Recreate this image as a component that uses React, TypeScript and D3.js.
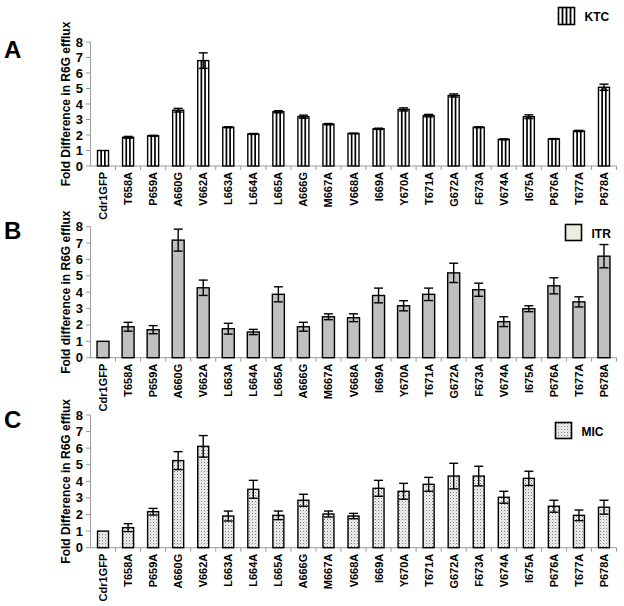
import React from "react";
import * as d3 from "d3";

const categories = ["Cdr1GFP","T658A","P659A","A660G","V662A","L663A","L664A","L665A","A666G","M667A","V668A","I669A","Y670A","T671A","G672A","F673A","V674A","I675A","P676A","T677A","P678A"];
const ktcValues = [1.0,1.85,1.95,3.6,6.8,2.5,2.07,3.5,3.18,2.7,2.1,2.4,3.65,3.25,4.55,2.5,1.72,3.18,1.75,2.26,5.08];
const ktcErrors = [0,0.06,0.03,0.12,0.5,0.03,0.03,0.07,0.1,0.04,0.02,0.04,0.1,0.08,0.1,0.03,0.03,0.12,0.02,0.04,0.2];
const itrValues = [1.0,1.89,1.71,7.18,4.27,1.77,1.57,3.87,1.89,2.5,2.44,3.8,3.17,3.87,5.18,4.15,2.2,2.99,4.39,3.41,6.2];
const itrErrors = [0,0.27,0.25,0.67,0.47,0.33,0.16,0.46,0.27,0.18,0.24,0.45,0.31,0.38,0.59,0.4,0.3,0.18,0.49,0.31,0.71];
const micValues = [1.0,1.21,2.17,5.25,6.11,1.91,3.52,1.95,2.86,2.03,1.91,3.58,3.4,3.82,4.32,4.32,3.04,4.18,2.5,1.95,2.44];
const micErrors = [0,0.24,0.2,0.54,0.65,0.3,0.54,0.26,0.36,0.18,0.16,0.48,0.48,0.42,0.77,0.59,0.36,0.43,0.36,0.32,0.42];
const yTicks = [0,1,2,3,4,5,6,7,8];

const FONT = "Liberation Sans, Arial, sans-serif";
const AXIS = "#9a9a9a";

type PanelProps = {
  letter: string;
  letterY: number;
  title: string;
  values: number[];
  errors: number[];
  y0: number;
  y8: number;
  barW: number;
  kind: "ktc" | "itr" | "mic";
  legend: string;
  legendX: number;
  legendY: number;
};

const x = d3.scaleBand<string>().domain(categories).range([90.5, 616.5]).paddingInner(0.54).paddingOuter(0.27);

function Panel(p: PanelProps) {
  const y = d3.scaleLinear().domain([0, 8]).range([p.y0, p.y8]);
  const step = x.step();
  const fill = p.kind === "itr" ? "#c0c0c0" : p.kind === "mic" ? "url(#dots)" : "#ffffff";
  return (
    <g>
      <text x={4} y={p.letterY} fontFamily={FONT} fontWeight="bold" fontSize={24}>{p.letter}</text>
      {/* y axis */}
      <line x1={90.5} x2={90.5} y1={y(0)} y2={y(8)} stroke={AXIS} strokeWidth={1} />
      {yTicks.map((t) => (
        <g key={t}>
          <line x1={86} x2={90.5} y1={y(t)} y2={y(t)} stroke={AXIS} strokeWidth={1} />
          <text x={83} y={y(t) + 4.5} textAnchor="end" fontFamily={FONT} fontWeight="bold" fontSize={13}>{t}</text>
        </g>
      ))}
      <text transform={`translate(70,${(y(0) + y(8)) / 2}) rotate(-90)`} textAnchor="middle" fontFamily={FONT} fontWeight="bold" fontSize={12}>{p.title}</text>
      {/* x axis */}
      <line x1={90.5} x2={616.5} y1={y(0)} y2={y(0)} stroke={AXIS} strokeWidth={1} />
      {categories.map((c, i) => (
        <line key={"t" + c} x1={90.5 + step * (i + 1)} x2={90.5 + step * (i + 1)} y1={y(0)} y2={y(0) + 4} stroke={AXIS} strokeWidth={1} />
      ))}
      {categories.map((c, i) => {
        const cx = (x(c) as number) + x.bandwidth() / 2;
        return (
          <text key={"l" + c} transform={`translate(${cx + 4},${y(0) + 6}) rotate(-90)`} textAnchor="end" fontFamily={FONT} fontWeight="bold" fontSize={11}>{c}</text>
        );
      })}
      {/* bars */}
      {categories.map((c, i) => {
        const cx = (x(c) as number) + x.bandwidth() / 2;
        const bx = cx - p.barW / 2;
        const top = y(p.values[i]);
        const h = y(0) - top;
        return (
          <g key={"b" + c}>
            <rect x={bx} y={top} width={p.barW} height={h} fill={fill} stroke="#000" strokeWidth={1.4} />
            {p.kind === "ktc" && [1, 2].map((k) => (
              <line key={k} x1={bx + (p.barW * k) / 3} x2={bx + (p.barW * k) / 3} y1={top} y2={y(0)} stroke="#000" strokeWidth={1.7} />
            ))}
          </g>
        );
      })}
      {/* error bars */}
      {categories.map((c, i) => {
        const e = p.errors[i];
        if (!e) return null;
        const cx = (x(c) as number) + x.bandwidth() / 2;
        const hi = y(p.values[i] + e);
        const lo = y(p.values[i] - e);
        return (
          <g key={"e" + c} stroke="#000" strokeWidth={1.4}>
            <line x1={cx} x2={cx} y1={hi} y2={lo} />
            <line x1={cx - 4.5} x2={cx + 4.5} y1={hi} y2={hi} />
            <line x1={cx - 4.5} x2={cx + 4.5} y1={lo} y2={lo} />
          </g>
        );
      })}
      {/* legend */}
      <g>
        {p.kind === "ktc" ? (
          <g>
            <rect x={p.legendX} y={p.legendY} width={16} height={17} fill="#fff" stroke="#000" strokeWidth={1.6} />
            {[1, 2, 3].map((k) => (
              <line key={k} x1={p.legendX + k * 4} x2={p.legendX + k * 4} y1={p.legendY} y2={p.legendY + 17} stroke="#000" strokeWidth={1.8} />
            ))}
          </g>
        ) : (
          <rect x={p.legendX} y={p.legendY} width={16} height={16} fill={p.kind === "itr" ? "#eeece0" : "url(#dots)"} stroke="#000" strokeWidth={1.6} />
        )}
        <text x={p.legendX + 26} y={p.legendY + 13} fontFamily={FONT} fontWeight="bold" fontSize={12}>{p.legend}</text>
      </g>
    </g>
  );
}

export default function App() {
  return (
    <svg width={624} height={606} style={{ position: "absolute", left: 0, top: 0, background: "#fff" }}>
      <defs>
        <pattern id="dots" patternUnits="userSpaceOnUse" width={3} height={3}>
          <rect width={3} height={3} fill="#eeeeee" />
          <rect x={0} y={0} width={1} height={1} fill="#7a7a7a" />
          <rect x={1.5} y={1.5} width={0.8} height={0.8} fill="#a8a8a8" />
        </pattern>
      </defs>
      <rect width={624} height={606} fill="#fff" />
      <Panel letter="A" letterY={58} title="Fold Difference in R6G efflux" values={ktcValues} errors={ktcErrors} y0={166} y8={42} barW={11} kind="ktc" legend="KTC" legendX={558.5} legendY={7.5} />
      <Panel letter="B" letterY={239} title="Fold difference in R6G efflux" values={itrValues} errors={itrErrors} y0={357.7} y8={226.7} barW={12} kind="itr" legend="ITR" legendX={565.5} legendY={224.5} />
      <Panel letter="C" letterY={428} title="Fold Difference in R6G efflux" values={micValues} errors={micErrors} y0={547.7} y8={415} barW={11} kind="mic" legend="MIC" legendX={555.5} legendY={422.5} />
    </svg>
  );
}
